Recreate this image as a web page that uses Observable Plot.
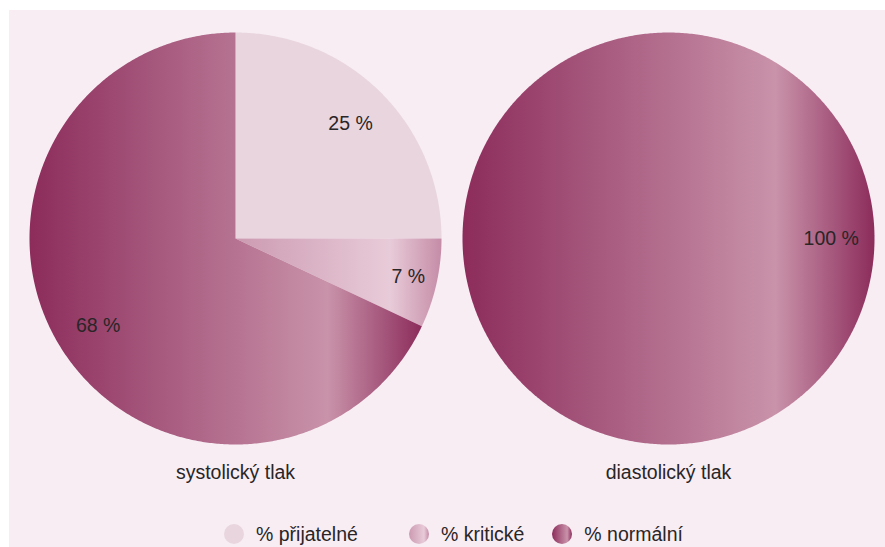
<!DOCTYPE html>
<html><head><meta charset="utf-8">
<script src="https://cdn.jsdelivr.net/npm/d3@7"></script>
<script src="https://cdn.jsdelivr.net/npm/@observablehq/plot@0.6"></script>
<style>
html,body{margin:0;padding:0;background:#fff;}
body{width:885px;height:547px;position:relative;overflow:hidden;font-family:"Liberation Sans",Arial,sans-serif;color:#2a2527;}
#panel{position:absolute;left:9px;top:10px;width:876px;height:537px;background:#f7edf3;}
#chart{position:absolute;left:0;top:0;}
#legend{position:absolute;left:0;top:524px;height:20px;display:flex;align-items:center;padding-left:224px;font-size:19.5px;}
.item{display:flex;align-items:center;white-space:nowrap;}
.item svg{margin-right:12px;display:block;}
#defs{position:absolute;width:0;height:0;}
</style>
</head><body>
<svg id="defs" width="0" height="0">
  <defs>
    <linearGradient id="g0" x1="0" y1="0" x2="1" y2="0">
      <stop offset="0" stop-color="#e9d5de"/><stop offset="1" stop-color="#e9d5de"/>
    </linearGradient>
    <linearGradient id="g1" x1="0" y1="0" x2="1" y2="0">
      <stop offset="0" stop-color="#cc9ab2"/><stop offset="0.75" stop-color="#e8cbd8"/><stop offset="1" stop-color="#c58ca7"/>
    </linearGradient>
    <linearGradient id="g2" x1="0" y1="0" x2="1" y2="0">
      <stop offset="0" stop-color="#8c2c5b"/><stop offset="0.76" stop-color="#c993aa"/><stop offset="1" stop-color="#8c2c5b"/>
    </linearGradient>
  </defs>
</svg>
<div id="panel"></div>
<div id="chart"></div>
<div id="legend"></div>
<script>
const charts = ["systolický tlak", "diastolický tlak"];
const categories = ["% přijatelné", "% kritické", "% normální"];
const systolic = [25, 7, 68];
const diastolic = [0, 0, 100];
const fills = ["url(#g0)", "url(#g1)", "url(#g2)"];

const seriesByChart = [systolic, diastolic];
const sliceRows = [];
const labelRows = [];
charts.forEach((chart, ci) => {
  const values = seriesByChart[ci];
  const total = d3.sum(values);
  let a0 = 0;
  values.forEach((v, i) => {
    if (!v) return;
    const a1 = a0 + v / total * 2 * Math.PI;
    const full = v === total;
    const n = Math.max(2, Math.ceil((a1 - a0) / (Math.PI / 360)));
    if (!full) sliceRows.push({chart, category: categories[i], x: 0, y: 0});
    for (let k = 0; k <= n; k++) {
      const a = a0 + (a1 - a0) * k / n;
      sliceRows.push({chart, category: categories[i], x: Math.sin(a), y: Math.cos(a)});
    }
    if (!full) sliceRows.push({chart, category: categories[i], x: 0, y: 0});
    const mid = full ? Math.PI / 2 : (a0 + a1) / 2;
    const rr = v / total < 0.1 ? 0.86 : 0.79;
    labelRows.push({chart, label: v + " %", x: rr * Math.sin(mid), y: rr * Math.cos(mid)});
    a0 = a1;
  });
});

const plot = Plot.plot({
  width: 885,
  height: 500,
  marginLeft: 29,
  marginRight: 11,
  marginTop: 32,
  marginBottom: 56,
  style: {background: "transparent", fontFamily: "'Liberation Sans', Arial, sans-serif", color: "#2a2527"},
  fx: {domain: charts, paddingInner: 21 / 433, paddingOuter: 0, axis: null},
  x: {domain: [-1, 1], axis: null},
  y: {domain: [-1, 1], axis: null},
  marks: [
    ...categories.map((c, i) => Plot.line(sliceRows.filter(d => d.category === c), {
      fx: "chart", x: "x", y: "y", z: "chart", fill: fills[i], stroke: "none", curve: "linear"
    })),
    Plot.text(labelRows, {fx: "chart", x: "x", y: "y", text: "label", fontSize: 19.5, fill: "#2a2527"}),
    Plot.text(charts, {fx: d => d, text: d => d, frameAnchor: "bottom", dy: 34, fontSize: 19.5, fill: "#2a2527"})
  ]
});
document.getElementById("chart").appendChild(plot);

const legend = document.getElementById("legend");
const itemGaps = [51, 28, 0];
categories.forEach((c, i) => {
  const item = document.createElement("div");
  item.className = "item";
  item.style.marginRight = itemGaps[i] + "px";
  item.innerHTML = `<svg width="20" height="20"><circle cx="10" cy="10" r="10" fill="${fills[i]}"/></svg><span>${c}</span>`;
  legend.appendChild(item);
});
</script>
</body></html>
